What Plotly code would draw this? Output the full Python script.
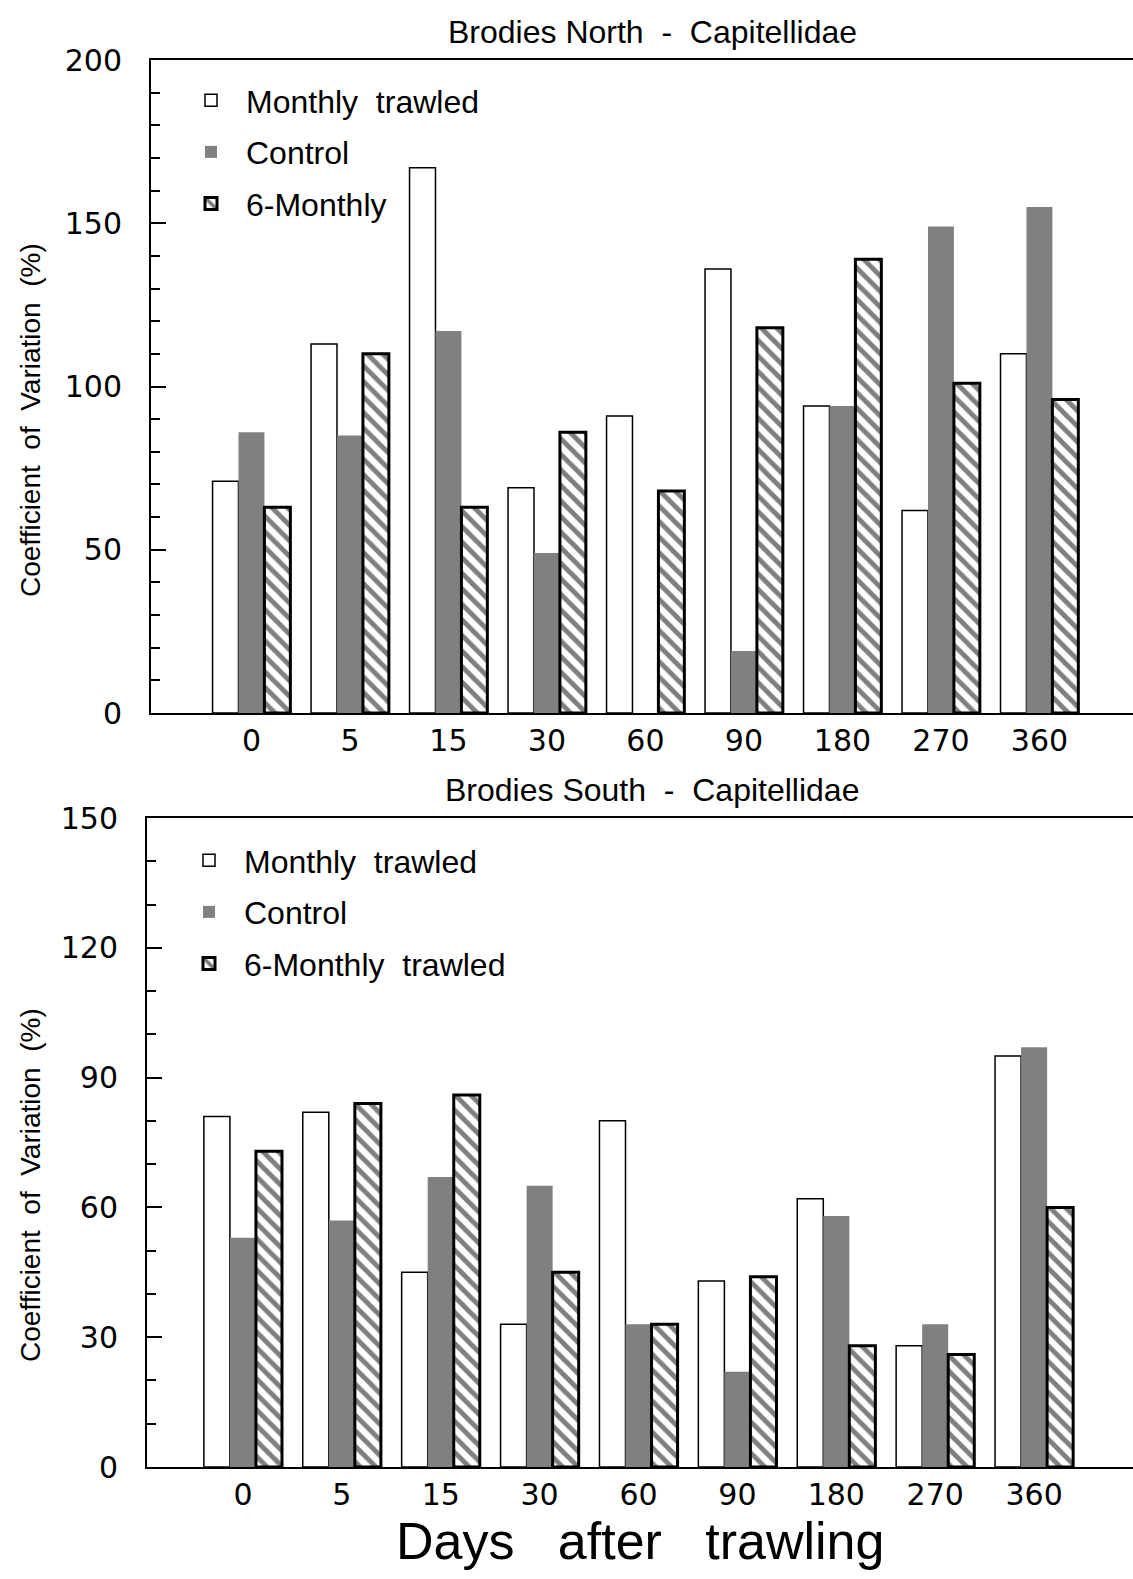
import plotly.graph_objects as go

days = ["0", "5", "15", "30", "60", "90", "180", "270", "360"]

north_monthly = [71, 113, 167, 69, 91, 136, 94, 62, 110]
north_control = [86, 85, 117, 49, None, 19, 94, 149, 155]
north_six = [63, 110, 63, 86, 68, 118, 139, 101, 96]

south_monthly = [81, 82, 45, 33, 80, 43, 62, 28, 95]
south_control = [53, 57, 67, 65, 33, 22, 58, 33, 97]
south_six = [73, 84, 86, 45, 33, 44, 28, 26, 60]

names_top = ["Monthly  trawled", "Control", "6-Monthly"]
names_bot = ["Monthly  trawled", "Control", "6-Monthly  trawled"]

W, H = 1133, 1579
TXT = "Liberation Sans, Arial, sans-serif"
NUM = "DejaVu Sans, Verdana, sans-serif"
GRAY = "#808080"

def styles(i):
    if i == 0:
        return dict(color="white", line=dict(color="black", width=1.5))
    if i == 1:
        return dict(color=GRAY, line=dict(color=GRAY, width=0))
    return dict(color="white", line=dict(color="black", width=3),
                pattern=dict(shape="\\", fgcolor="black", bgcolor="white", size=11, solidity=0.45))

fig = go.Figure()
for i, (nm, vals) in enumerate(zip(names_top, [north_monthly, north_control, north_six])):
    fig.add_trace(go.Bar(x=days, y=vals, name=nm, marker=styles(i),
                         xaxis="x", yaxis="y", legend="legend", legendgroup="t%d" % i))
for i, (nm, vals) in enumerate(zip(names_bot, [south_monthly, south_control, south_six])):
    fig.add_trace(go.Bar(x=days, y=vals, name=nm, marker=styles(i),
                         xaxis="x2", yaxis="y2", legend="legend2", legendgroup="b%d" % i))

def xax(dom, rng, anchor):
    return dict(domain=dom, range=rng, type="category", anchor=anchor, automargin=False,
                showline=True, linecolor="black", linewidth=2, mirror=True,
                ticks="", showgrid=False, zeroline=False,
                tickfont=dict(family=NUM, size=30, color="black"),
                ticklabelstandoff=0)

def yax(dom, rng, dtick, anchor):
    return dict(domain=dom, range=rng, anchor=anchor, automargin=False,
                showline=True, linecolor="black", linewidth=2,
                ticks="inside", ticklen=15, tickwidth=1.5, tickcolor="black",
                dtick=dtick, showgrid=False, zeroline=False,
                minor=dict(dtick=10, ticks="inside", ticklen=9, tickwidth=1.5, tickcolor="black"),
                tickfont=dict(family=NUM, size=30, color="black"),
                ticklabelstandoff=21)

leg_common = dict(xanchor="left", yanchor="top",
                  font=dict(family=TXT, size=32, color="black"),
                  bgcolor="rgba(0,0,0,0)", itemwidth=60, tracegroupgap=7)

fig.update_layout(
    width=W, height=H,
    margin=dict(l=0, r=0, t=0, b=0, autoexpand=False),
    paper_bgcolor="white", plot_bgcolor="white",
    barmode="group", bargap=0.21, bargroupgap=0,
    xaxis=xax([151 / W, 1.0], [-1.02, 8.95], "y"),
    yaxis=yax([1 - 713 / H, 1 - 60 / H], [0, 200], 50, "x"),
    xaxis2=xax([147 / W, 1.0], [-0.97, 9.0], "y2"),
    yaxis2=yax([1 - 1467 / H, 1 - 818 / H], [0, 150], 30, "x2"),
    legend=dict(x=176 / W, y=1 - 73 / H, **leg_common),
    legend2=dict(x=174 / W, y=1 - 833 / H, **leg_common),
    annotations=[
        dict(text="Brodies North  -  Capitellidae", x=652 / W, y=1 - 32 / H,
             xref="paper", yref="paper", showarrow=False, yanchor="middle",
             font=dict(family=TXT, size=32, color="black")),
        dict(text="Brodies South  -  Capitellidae", x=652 / W, y=1 - 790 / H,
             xref="paper", yref="paper", showarrow=False, yanchor="middle",
             font=dict(family=TXT, size=32, color="black")),
        dict(text="Coefficient  of  Variation  (%)", x=30 / W, y=1 - 420 / H,
             xref="paper", yref="paper", showarrow=False, textangle=-90,
             xanchor="center", yanchor="middle",
             font=dict(family=TXT, size=28, color="black")),
        dict(text="Days   after   trawling", x=640 / W, y=1 - 1541 / H,
             xref="paper", yref="paper", showarrow=False, yanchor="middle",
             font=dict(family=TXT, size=52, color="black")),
        dict(text="Coefficient  of  Variation  (%)", x=30 / W, y=1 - 1185 / H,
             xref="paper", yref="paper", showarrow=False, textangle=-90,
             xanchor="center", yanchor="middle",
             font=dict(family=TXT, size=28, color="black")),
    ],
)

fig.write_html("out.html", config={"displayModeBar": False},
               post_script="document.body.style.margin='0px';")
